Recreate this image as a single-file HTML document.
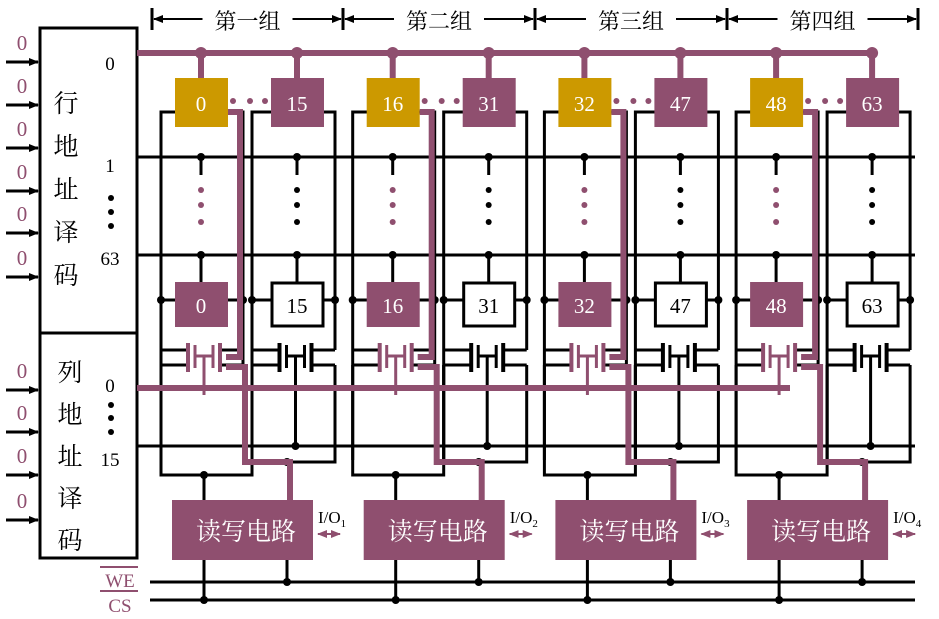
<!DOCTYPE html>
<html><head><meta charset="utf-8"><style>
body{margin:0;background:#fff}
svg{display:block}
text{font-family:"Liberation Serif","Noto Serif CJK SC",serif}
</style></head><body>
<svg id="s" width="939" height="619" viewBox="0 0 939 619" xmlns="http://www.w3.org/2000/svg">
<defs>
<marker id="ar" markerUnits="userSpaceOnUse" markerWidth="10" markerHeight="10" refX="9" refY="5" orient="auto"><path d="M0,1 L10,5 L0,9 Z" fill="#000"/></marker>
<marker id="arp" markerUnits="userSpaceOnUse" markerWidth="10" markerHeight="10" refX="9" refY="5" orient="auto"><path d="M0,1 L10,5 L0,9 Z" fill="#8f4f6f"/></marker>
<marker id="arps" markerUnits="userSpaceOnUse" markerWidth="10" markerHeight="10" refX="1" refY="5" orient="auto"><path d="M10,1 L0,5 L10,9 Z" fill="#8f4f6f"/></marker>
</defs>
<g id="g"></g>
</svg>
<script>
const P='#8f4f6f', Y='#cc9900';
const groups=['第一组','第二组','第三组','第四组'];
const starts=[0,16,32,48];
const step=191.7;
const g=document.getElementById('g');
const NS='http://www.w3.org/2000/svg';
function el(t,a,name){const e=document.createElementNS(NS,t);for(const k in a)e.setAttribute(k,a[k]);


g.appendChild(e);return e;}
function ln(x1,y1,x2,y2,c,w,n){return el('line',{x1,y1,x2,y2,stroke:c||'#000','stroke-width':w||3},n||'wire');}
function pl(pts,c,w,n){return el('polyline',{points:pts,fill:'none',stroke:c||'#000','stroke-width':w||3},n||'wire');}
function dot(x,y,r,c){return el('circle',{cx:x,cy:y,r:r||4,fill:c||'#000'},'junction-dot');}
function tx(x,y,s,sz,c,anch,n){const e=el('text',{x,y,'font-size':sz,fill:c||'#000','text-anchor':anch||'middle'},n||'label');e.textContent=s;return e;}
function box(x,y,w,h,fill,stroke,n){return el('rect',{x,y,width:w,height:h,fill,stroke:stroke||'none','stroke-width':3},n);}

// decoders
box(40,28,97,305,'#fff','#000','row-decoder');
box(40,333,97,225,'#fff','#000','column-decoder');
['行','地','址','译','码'].forEach((c,i)=>tx(66,112+i*43,c,25,'#000','middle','row-decoder-label'));
['列','地','址','译','码'].forEach((c,i)=>tx(70,381+i*42,c,25,'#000','middle','column-decoder-label'));
tx(110,70,'0',19);tx(110,172,'1',19);tx(110,265,'63',19);
[198,212,226].forEach(y=>dot(111,y,3));
tx(110,392,'0',19);tx(110,466,'15',19);
[405,418,432].forEach(y=>dot(111,y,3));
[62,105,148,191,233,277].forEach(y=>{tx(22,y-12,'0',21,P,'middle','address-input-value');ln(6,y,38,y,'#000',3,'address-input-arrow').setAttribute('marker-end','url(#ar)');});
[390,432,475,520].forEach(y=>{tx(22,y-12,'0',21,P,'middle','address-input-value');ln(6,y,38,y,'#000',3,'address-input-arrow').setAttribute('marker-end','url(#ar)');});

// row lines
ln(137,157,915,157);ln(137,255,915,255);
ln(137,446,915,446);
ln(150,582,915,582,'#000',3,'we-line');ln(150,600,915,600,'#000',3,'cs-line');
tx(120,587,'WE',19,P);ln(100,567,138,567,P,2,'overbar');
tx(120,612,'CS',19,P);ln(100,591,138,591,P,2,'overbar');

// header
const ticks=[152,343,535,727,918];
ticks.forEach(x=>ln(x,8,x,30,'#000',3,'group-bracket'));
groups.forEach((s,i)=>{const a=ticks[i],b=ticks[i+1],m=(a+b)/2;
 ln(m-45,19,a+2,19,'#000',2,'group-arrow').setAttribute('marker-end','url(#ar)');
 ln(m+45,19,b-2,19,'#000',2,'group-arrow').setAttribute('marker-end','url(#ar)');
 tx(m,29,s,22,'#000','middle','group-title');});

for(let k=0;k<4;k++){
 const o=k*step, s=starts[k];
 const cx=[201+o,297+o];
 [[161+o,243+o],[252+o,335+o]].forEach(([a,b],j)=>{
  pl(`${a},460 ${a},112 ${cx[j]-20},112`);pl(`${cx[j]+20},112 ${b},112 ${b},350`);
  ln(cx[j],157,cx[j],175);dot(cx[j],157);
  ln(cx[j],255,cx[j],285);dot(cx[j],255);
  ln(a,300,b,300);dot(a,300);dot(b,300);
  const tc=(a+b)/2+2;
  pl(`${a},350 ${tc-16},350`);pl(`${b},350 ${tc+16},350`);
  pl(`${a},365 ${tc-16},365`);pl(`${b},365 ${tc+16},365`);
  ln(tc-16,343,tc-16,372,j==0?P:'#000',4,'transistor');ln(tc+16,343,tc+16,372,j==0?P:'#000',4,'transistor');
  pl(`${tc-9},345 ${tc-9},368`,j==0?P:'#000',3);pl(`${tc+9},345 ${tc+9},368`,j==0?P:'#000',3);
  ln(tc-9,356,tc+9,356,j==0?P:'#000',3);
  ln(tc,356,tc,j==0?395:446,j==0?P:'#000',3,'transistor-gate');
  if(j==1)dot(tc,446);
 });
 pl(`${161+o},365 ${161+o},475 ${252+o},475 ${252+o},365`);
 pl(`${252+o},365 ${252+o},462 ${335+o},462 ${335+o},365`);
 pl(`${243+o},350 ${243+o},365`);
 dot(204+o,475);dot(287+o,462);
 [190,205,222].forEach(y=>{dot(cx[0],y,3,P);dot(cx[1],y,3);});
 [233,250,265].forEach(x=>dot(x+o,101,3,P));
 ln(cx[0],53,cx[0],80,P,6,'row0-tap');ln(cx[1],53,cx[1],80,P,6,'row0-tap');
 dot(cx[0],53,6,P);dot(cx[1],53,6,P);
 box(175+o,78,53,49,Y,'none','cell-selected');tx(201+o,111,String(s),21,'#fff','middle','cell-number');
 box(271+o,78,53,49,P,'none','cell-row0');tx(297+o,111,String(s+15),21,'#fff','middle','cell-number');
 box(175+o,282,53,45,P,'none','cell-row63');tx(201+o,313,String(s),21,'#fff','middle','cell-number');
 box(272+o,283,51,43,'#fff','#000','cell-row63');tx(297+o,313,String(s+15),21,'#000','middle','cell-number');
 pl(`${228+o},112 ${240+o},112 ${240+o},357 ${226+o},357`,P,6,'data-path');
 pl(`${226+o},367 ${245+o},367 ${245+o},462 ${290+o},462 ${290+o},500`,P,6,'data-path');
 ln(204+o,475,204+o,600);ln(287+o,560,287+o,582);dot(204+o,600);dot(287+o,582);
 box(172+o,500,141,60,P,'none','read-write-circuit');
 tx(246+o,540,'读写电路',25,'#fff','middle','read-write-label');
 const ar=ln(318+o,534,340+o,534,P,2,'io-arrow');ar.setAttribute('marker-end','url(#arp)');ar.setAttribute('marker-start','url(#arps)');
 const io=tx(318+o,523,'I/O',17,'#000','start','io-label');
 const sub=document.createElementNS(NS,'tspan');sub.setAttribute('font-size','11');sub.setAttribute('dy','4');sub.textContent=String(k+1);io.appendChild(sub);
}
ln(137,53,870,53,P,6,'row0-select-line');
ln(137,388,790,388,P,6,'column0-select-line');
</script>
</body></html>
